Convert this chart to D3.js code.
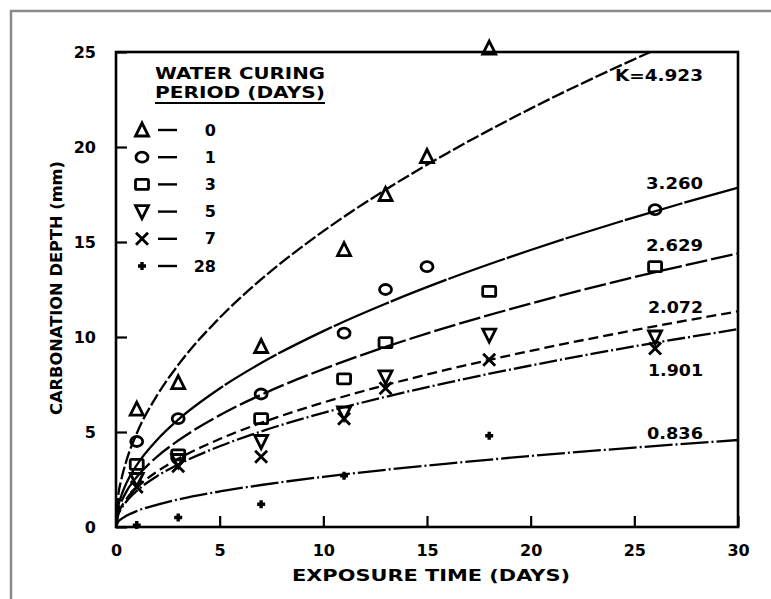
<!DOCTYPE html>
<html><head><meta charset="utf-8">
<script src="https://cdn.jsdelivr.net/npm/d3@7"></script>
<style>
html,body{margin:0;padding:0;background:#fff;}
svg{display:block;font-family:"DejaVu Sans",sans-serif;font-weight:bold;}
</style></head>
<body><svg id="c" width="771" height="599"></svg>
<script>
// ---- data ----
const curingPeriods = ["0", "1", "3", "5", "7", "28"];
const kLabels = ["K=4.923", "3.260", "2.629", "2.072", "1.901", "0.836"];
const xTicks = [0, 5, 10, 15, 20, 25, 30];
const yTicks = [0, 5, 10, 15, 20, 25];

// measured points (exposure days, depth mm)
const ptsX0 = [1, 3, 7, 11, 13, 15, 18];
const ptsY0 = [6.2, 7.6, 9.5, 14.6, 17.5, 19.5, 25.2];
const ptsX1 = [1, 3, 7, 11, 13, 15, 26];
const ptsY1 = [4.5, 5.7, 7.0, 10.2, 12.5, 13.7, 16.7];
const ptsX3 = [1, 3, 7, 11, 13, 18, 26];
const ptsY3 = [3.3, 3.8, 5.7, 7.8, 9.7, 12.4, 13.7];
const ptsX5 = [1, 3, 7, 11, 13, 18, 26];
const ptsY5 = [2.5, 3.5, 4.5, 6.0, 7.9, 10.1, 10.0];
const ptsX7 = [1, 3, 7, 11, 13, 18, 26];
const ptsY7 = [2.1, 3.2, 3.7, 5.7, 7.3, 8.8, 9.4];
const ptsX28 = [1, 3, 7, 11, 18];
const ptsY28 = [0.1, 0.5, 1.2, 2.7, 4.8];

// fitted curves
const curveT = [0, 0.1, 0.25, 0.5, 1, 2, 3, 5, 7, 10, 13, 16, 20, 25, 30];
const fit0  = [0, 1.56, 2.46, 3.48, 4.92, 6.96, 8.53, 11.01, 13.03, 15.57, 17.75, 19.69, 22.02, 24.62, 26.96];
const fit1  = [0, 1.03, 1.63, 2.31, 3.26, 4.61, 5.65, 7.29, 8.63, 10.31, 11.75, 13.04, 14.58, 16.30, 17.86];
const fit3  = [0, 0.83, 1.31, 1.86, 2.63, 3.72, 4.55, 5.88, 6.96, 8.31, 9.48, 10.52, 11.76, 13.15, 14.40];
const fit5  = [0, 0.66, 1.04, 1.47, 2.07, 2.93, 3.59, 4.63, 5.48, 6.55, 7.47, 8.29, 9.27, 10.36, 11.35];
const fit7  = [0, 0.60, 0.95, 1.34, 1.90, 2.69, 3.29, 4.25, 5.03, 6.01, 6.85, 7.60, 8.50, 9.51, 10.41];
const fit28 = [0, 0.26, 0.42, 0.59, 0.84, 1.18, 1.45, 1.87, 2.21, 2.64, 3.01, 3.34, 3.74, 4.18, 4.58];

const series = [
  {name: curingPeriods[0], k: kLabels[0], px: ptsX0, py: ptsY0, fit: fit0, sym: "triUp", dash: "13,3"},
  {name: curingPeriods[1], k: kLabels[1], px: ptsX1, py: ptsY1, fit: fit1, sym: "circle", dash: "60,2"},
  {name: curingPeriods[2], k: kLabels[2], px: ptsX3, py: ptsY3, fit: fit3, sym: "square", dash: "22,4"},
  {name: curingPeriods[3], k: kLabels[3], px: ptsX5, py: ptsY5, fit: fit5, sym: "triDown", dash: "10,5"},
  {name: curingPeriods[4], k: kLabels[4], px: ptsX7, py: ptsY7, fit: fit7, sym: "x", dash: "18,3,2,3"},
  {name: curingPeriods[5], k: kLabels[5], px: ptsX28, py: ptsY28, fit: fit28, sym: "plus", dash: "28,3,2,3"}
];

// ---- layout ----
const L = 116, R = 738, T = 52, B = 527;
const svg = d3.select("#c");
const x = d3.scaleLinear().domain([0, 30]).range([L, R]);
const y = d3.scaleLinear().domain([0, 25]).range([B, T]);

// outer gray frame (partial)
svg.append("path").attr("d", "M11,599 V11 H771").attr("fill", "none").attr("stroke", "#8a8a8a").attr("stroke-width", 2.5);

svg.append("defs").append("clipPath").attr("id", "clip")
  .append("rect").attr("x", L).attr("y", T).attr("width", R - L).attr("height", B - T);

// axes
const xAxis = svg.append("g").attr("transform", `translate(0,${B})`)
  .call(d3.axisBottom(x).tickValues(xTicks).tickSize(-11).tickPadding(0).tickFormat(d3.format("d")));
const yAxis = svg.append("g").attr("transform", `translate(${L},0)`)
  .call(d3.axisLeft(y).tickValues(yTicks).tickSize(-11).tickPadding(20).tickFormat(d3.format("d")));
[xAxis, yAxis].forEach(g => {
  g.select(".domain").remove();
  g.selectAll(".tick line").attr("stroke", "#000").attr("stroke-width", 2.2);
  g.selectAll(".tick text").attr("fill", "#000").attr("font-size", 16).attr("font-family", "DejaVu Sans").attr("font-weight", "bold");
});
xAxis.selectAll(".tick text").attr("y", 29).attr("dy", null);
yAxis.selectAll(".tick text").attr("dy", "0.36em");

// frame
svg.append("rect").attr("x", L).attr("y", T).attr("width", R - L).attr("height", B - T)
  .attr("fill", "none").attr("stroke", "#000").attr("stroke-width", 2.6);

// axis titles
svg.append("text").attr("x", 431).attr("y", 581).attr("text-anchor", "middle")
  .attr("font-size", 16).attr("textLength", 278).attr("lengthAdjust", "spacingAndGlyphs")
  .text("EXPOSURE TIME (DAYS)");
svg.append("text").attr("transform", "translate(62,288) rotate(-90)").attr("text-anchor", "middle")
  .attr("font-size", 15).attr("textLength", 254).attr("lengthAdjust", "spacingAndGlyphs")
  .text("CARBONATION DEPTH (mm)");

// curves
const line = d3.line().x((d) => x(d[0])).y((d) => y(d[1])).curve(d3.curveMonotoneX);
const gc = svg.append("g").attr("clip-path", "url(#clip)");
series.forEach(s => {
  gc.append("path").datum(curveT.map((t, i) => [t, s.fit[i]]))
    .attr("d", line).attr("fill", "none").attr("stroke", "#000")
    .attr("stroke-width", 2.3).attr("stroke-dasharray", s.dash);
});

// symbols
function drawSym(g, type, cx, cy) {
  const st = {fill: "none", stroke: "#000", "stroke-width": 2.8};
  let el;
  if (type === "triUp") el = g.append("path").attr("d", `M${cx},${cy-7} L${cx+6.5},${cy+6} L${cx-6.5},${cy+6} Z`);
  else if (type === "triDown") el = g.append("path").attr("d", `M${cx-6.5},${cy-6} L${cx+6.5},${cy-6} L${cx},${cy+7} Z`);
  else if (type === "circle") el = g.append("ellipse").attr("cx", cx).attr("cy", cy).attr("rx", 6).attr("ry", 5);
  else if (type === "square") el = g.append("rect").attr("x", cx - 6.5).attr("y", cy - 5).attr("width", 13).attr("height", 10).attr("rx", 1.5);
  else if (type === "x") el = g.append("path").attr("d", `M${cx-6},${cy-6} L${cx+6},${cy+6} M${cx+6},${cy-6} L${cx-6},${cy+6}`);
  else if (type === "plus") {
    el = g.append("path").attr("d", `M${cx-4},${cy} L${cx+4},${cy} M${cx},${cy-4} L${cx},${cy+4}`);
    st["stroke-width"] = 3.4;
  }
  Object.entries(st).forEach(([k, v]) => el.attr(k, v));
}

const gp = svg.append("g");
series.forEach(s => {
  s.px.forEach((px, i) => drawSym(gp, s.sym, x(px), y(s.py[i])));
});

// curve K labels
const kPos = [[703, 81], [703, 189], [703, 251], [703, 313], [703, 376], [703, 439]];
const kLen = [88, 57, 57, 55, 55, 56];
series.forEach((s, i) => {
  svg.append("text").attr("x", kPos[i][0] - kLen[i]).attr("y", kPos[i][1])
    .attr("font-size", 15).attr("textLength", kLen[i]).attr("lengthAdjust", "spacingAndGlyphs").text(s.k);
});

// legend
const lg = svg.append("g");
lg.append("text").attr("x", 155).attr("y", 79).attr("font-size", 15)
  .attr("textLength", 170).attr("lengthAdjust", "spacingAndGlyphs").text("WATER CURING");
lg.append("text").attr("x", 155).attr("y", 98).attr("font-size", 15)
  .attr("textLength", 170).attr("lengthAdjust", "spacingAndGlyphs").text("PERIOD (DAYS)");
lg.append("line").attr("x1", 155).attr("x2", 325).attr("y1", 103).attr("y2", 103)
  .attr("stroke", "#000").attr("stroke-width", 2.2);
series.forEach((s, i) => {
  const cy = 130 + i * 27.2;
  drawSym(lg, s.sym, 142, cy);
  lg.append("line").attr("x1", 158).attr("x2", 177).attr("y1", cy).attr("y2", cy)
    .attr("stroke", "#000").attr("stroke-width", 2.4);
  lg.append("text").attr("x", 216).attr("y", cy + 5.5).attr("text-anchor", "end")
    .attr("font-size", 16).text(s.name);
});
</script></body></html>
